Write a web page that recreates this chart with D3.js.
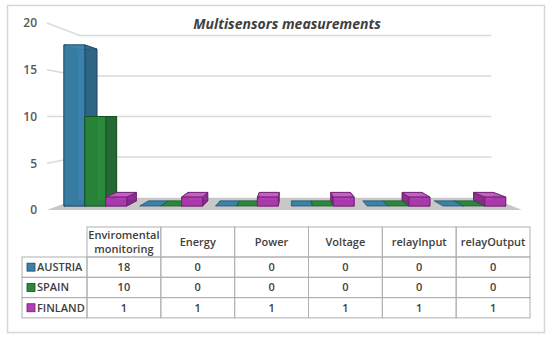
<!DOCTYPE html>
<html><head><meta charset="utf-8">
<script src="https://cdn.jsdelivr.net/npm/d3@7"></script>
<style>body{margin:0;background:#fff}svg{display:block}</style>
</head><body>
<svg id="c" width="550" height="340"></svg>
<script>
// ---- data ----
const categories = ["Enviromental monitoring","Energy","Power","Voltage","relayInput","relayOutput"];
const headerLines = [["Enviromental","monitoring"],["Energy"],["Power"],["Voltage"],["relayInput"],["relayOutput"]];
const series = ["AUSTRIA","SPAIN","FINLAND"];
const austria = [18,0,0,0,0,0];
const spain   = [10,0,0,0,0,0];
const finland = [1,1,1,1,1,1];
const yTicks = [0,5,10,15,20];
const title = "Multisensors measurements";

const values = [austria, spain, finland];
const palette = {
  AUSTRIA: {front:"#3b82ab", side:"#2c5f7e", top:"#5c9cc0", edge:"#1d4a66"},
  SPAIN:   {front:"#2a8a3c", side:"#24602f", top:"#4ea25c", edge:"#175024"},
  FINLAND: {front:"#b23db4", side:"#862c88", top:"#c766c8", edge:"#6e1f70"}
};

const svg = d3.select("#c");
const font = "'Open Sans', 'Noto Sans', sans-serif";

// outer frame
svg.append("rect").attr("x",7.5).attr("y",5.5).attr("width",537).attr("height",327)
  .attr("fill","#fff").attr("stroke","#d6d6d6").attr("stroke-width",1.5);

// ---- 3D projection ----
const vp = [292, 117];
const cz = 0.1534;
function proj(X, Y, z){ const k = 1/(1+cz*z); return [vp[0]+(X-vp[0])*k, vp[1]+(Y-vp[1])*k]; }
const x0 = d3.scaleBand().domain(categories).range([47,522]).padding(0);
const x1 = d3.scaleBand().domain(series).range([0,x0.bandwidth()]).paddingInner(0).paddingOuter(0.31);
const y = d3.scaleLinear().domain([0,20]).range([210,23]);
const zFront = 0.29, zBack = 0.71;
const line = d3.line();
const poly = pts => line(pts) + "Z";

// floor
const XL = x0.range()[0], XR = x0.range()[1];
svg.append("path").attr("d", poly([proj(XL,y(0),0),proj(XR,y(0),0),proj(XR,y(0),1),proj(XL,y(0),1)]))
  .attr("fill","#c8c8c8");

// gridlines (left wall + back wall)
const grid = svg.append("g");
yTicks.filter(v=>v>0).forEach(v=>{
  grid.append("path").attr("d", line([proj(XL,y(v),0),proj(XL,y(v),1),proj(XR,y(v),1)]))
    .attr("fill","none").attr("stroke","#dadada").attr("stroke-width",1.5);
});

// y axis labels
const yAxis = d3.axisLeft(y).tickValues(yTicks).tickSize(0).tickPadding(10);
const ya = svg.append("g").attr("transform","translate(47,0)").call(yAxis);
ya.select(".domain").remove();
ya.selectAll("text").attr("font-family",font).attr("font-size",12).attr("font-weight",600).attr("fill","#595959");

// title
svg.append("text").attr("x",287).attr("y",29).attr("text-anchor","middle")
  .attr("font-family",font).attr("font-size",14).attr("font-weight",700).attr("font-style","italic")
  .attr("fill","#404040").text(title);

// bars
const bars = [];
categories.forEach((c,i)=>{
  series.forEach((s,j)=>{
    const X0 = x0(c)+x1(s), X1 = X0 + x1.bandwidth();
    bars.push({s, v: values[j][i], X0, X1});
  });
});
bars.sort((a,b)=>Math.abs((b.X0+b.X1)/2-vp[0]) - Math.abs((a.X0+a.X1)/2-vp[0]));
const gb = svg.append("g");
bars.forEach(b=>{
  const col = palette[b.s];
  const Yt = y(b.v), Yb = y(0);
  const P = (X,Y,z)=>proj(X,Y,z);
  const faces = {
    back:  {pts:[P(b.X0,Yb,zBack),P(b.X1,Yb,zBack),P(b.X1,Yt,zBack),P(b.X0,Yt,zBack)], fill:col.front, vis:false},
    bottom:{pts:[P(b.X0,Yb,zFront),P(b.X1,Yb,zFront),P(b.X1,Yb,zBack),P(b.X0,Yb,zBack)], fill:col.side, vis:Yb<vp[1]},
    left:  {pts:[P(b.X0,Yb,zFront),P(b.X0,Yt,zFront),P(b.X0,Yt,zBack),P(b.X0,Yb,zBack)], fill:col.side, vis:b.X0>vp[0]},
    right: {pts:[P(b.X1,Yb,zFront),P(b.X1,Yt,zFront),P(b.X1,Yt,zBack),P(b.X1,Yb,zBack)], fill:col.side, vis:b.X1<vp[0]},
    top:   {pts:[P(b.X0,Yt,zFront),P(b.X1,Yt,zFront),P(b.X1,Yt,zBack),P(b.X0,Yt,zBack)], fill:col.top, vis:Yt>vp[1]},
    front: {pts:[P(b.X0,Yb,zFront),P(b.X1,Yb,zFront),P(b.X1,Yt,zFront),P(b.X0,Yt,zFront)], fill:col.front, vis:true}
  };
  const g = gb.append("g");
  if (b.v === 0) {
    g.append("path").attr("d",poly(faces.top.pts)).attr("fill",col.front)
      .attr("stroke",col.edge).attr("stroke-width",0.7);
    return;
  }
  Object.values(faces).filter(f=>!f.vis).forEach(f=>{
    g.append("path").attr("d",poly(f.pts)).attr("fill",f.fill).attr("stroke",col.edge).attr("stroke-width",0.8);
  });
  ["left","right","top","front"].forEach(k=>{
    const f = faces[k]; if(!f.vis) return;
    g.append("path").attr("d",poly(f.pts)).attr("fill",f.fill).attr("fill-opacity",0.82)
      .attr("stroke",col.edge).attr("stroke-width",0.8);
  });
});

// ---- data table ----
const tx = d3.scaleBand().domain(categories).range([87,530]);
const headTop = 227, headBot = 257, rowH = 20.3;
const tcol = "#b0b0b0";
const tg = svg.append("g");
// header cells
categories.forEach((c,i)=>{
  tg.append("rect").attr("x",tx(c)).attr("y",headTop).attr("width",tx.bandwidth()).attr("height",headBot-headTop)
    .attr("fill","none").attr("stroke",tcol).attr("stroke-width",1);
  const lines = headerLines[i];
  const cy = (headTop+headBot)/2;
  lines.forEach((t,k)=>{
    tg.append("text").attr("x",tx(c)+tx.bandwidth()/2)
      .attr("y", cy + (k-(lines.length-1)/2)*14.5).attr("dy","0.35em")
      .attr("text-anchor","middle").attr("font-family",font).attr("font-size",11).attr("font-weight",600)
      .attr("fill","#404040").text(t);
  });
});
series.forEach((s,j)=>{
  const ry = headBot + j*rowH;
  tg.append("rect").attr("x",22).attr("y",ry).attr("width",87-22).attr("height",rowH)
    .attr("fill","none").attr("stroke",tcol).attr("stroke-width",1);
  tg.append("rect").attr("x",27).attr("y",ry+rowH/2-4).attr("width",8).attr("height",8)
    .attr("fill",palette[s].front).attr("stroke",palette[s].edge).attr("stroke-width",0.8);
  tg.append("text").attr("x",37).attr("y",ry+rowH/2).attr("dy","0.35em")
    .attr("font-family",font).attr("font-size",11).attr("font-weight",600).attr("fill","#404040").text(s);
  categories.forEach((c,i)=>{
    tg.append("rect").attr("x",tx(c)).attr("y",ry).attr("width",tx.bandwidth()).attr("height",rowH)
      .attr("fill","none").attr("stroke",tcol).attr("stroke-width",1);
    tg.append("text").attr("x",tx(c)+tx.bandwidth()/2).attr("y",ry+rowH/2).attr("dy","0.35em")
      .attr("text-anchor","middle").attr("font-family",font).attr("font-size",11).attr("font-weight",600)
      .attr("fill","#404040").text(values[j][i]);
  });
});
</script>
</body></html>
